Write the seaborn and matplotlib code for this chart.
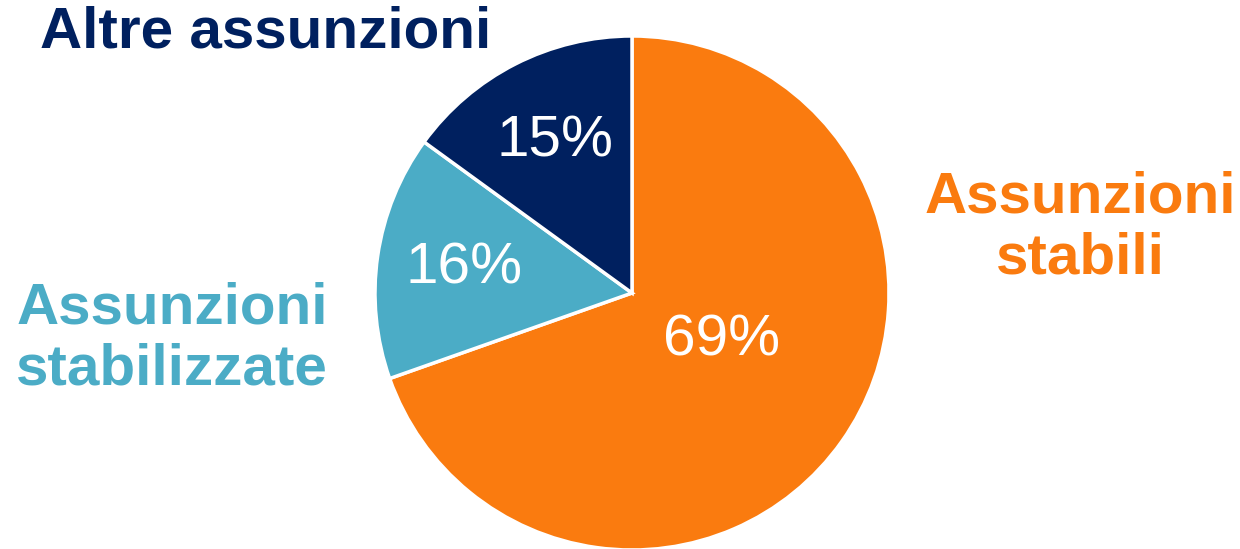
import matplotlib
matplotlib.use("Agg")
import matplotlib.pyplot as plt
import seaborn as sns

categories = ["Assunzioni stabili", "Assunzioni stabilizzate", "Altre assunzioni"]
values = [69.6, 15.4, 15.0]
pct_labels = ["69%", "16%", "15%"]
colors = ["#FA7B0F", "#4BACC6", "#00205F"]

sns.set_theme(style="white")
plt.rcParams['font.family'] = ['Liberation Sans', 'DejaVu Sans']

W, H = 1240, 549
fig = plt.figure(figsize=(W / 100, H / 100), dpi=100)
cx, cy, r = 632, 293, 257
ax = fig.add_axes([(cx - r) / W, (H - cy - r) / H, 2 * r / W, 2 * r / H])
ax.set_axis_off()

wedges, texts, autotexts = ax.pie(
    values, colors=colors, startangle=90, counterclock=False,
    autopct="%1.0f%%", pctdistance=0.66, radius=1,
    wedgeprops=dict(edgecolor="white", linewidth=2.5),
    textprops=dict(color="white", fontsize=42),
)
for t, lab in zip(autotexts, pct_labels):
    t.set_text(lab)
ax.set_xlim(-1, 1)
ax.set_ylim(-1, 1)
autotexts[0].set_position((0.35, -0.185))

fig.text(1080 / W, 1 - 228 / H, "Assunzioni\nstabili", color=colors[0], fontsize=42,
         fontweight="bold", ha="center", va="center", linespacing=1.15)
fig.text(172 / W, 1 - 339 / H, "Assunzioni\nstabilizzate", color=colors[1], fontsize=42,
         fontweight="bold", ha="center", va="center", linespacing=1.15)
fig.text(266 / W, 1 - 32 / H, "Altre assunzioni", color=colors[2], fontsize=42,
         fontweight="bold", ha="center", va="center")

fig.savefig("out.png", dpi=100)
